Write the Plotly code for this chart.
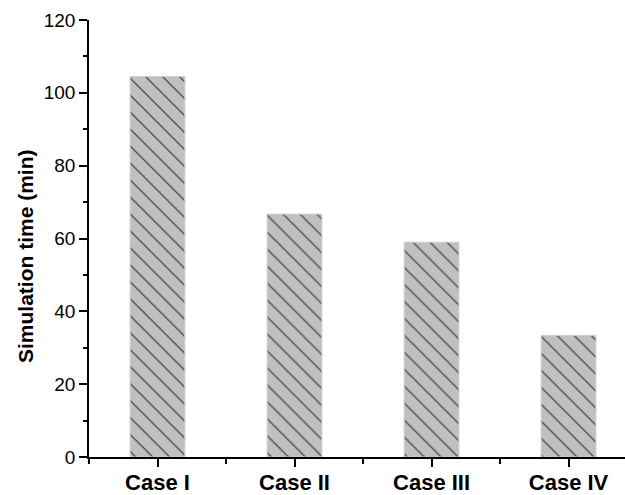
import plotly.graph_objects as go

# Simulation run time per case
categories = ["Case I", "Case II", "Case III", "Case IV"]
sim_time_min = [104.5, 66.7, 59.0, 33.4]
y_ticks = [0, 20, 40, 60, 80, 100, 120]

x_pos = list(range(len(categories)))

fig = go.Figure(
    go.Bar(
        x=x_pos,
        y=sim_time_min,
        width=0.4,
        marker=dict(
            color="#c0c0c0",
            line=dict(color="#d0d0d0", width=1),
            pattern=dict(shape="\\", size=12, solidity=0.1,
                         fgcolor="#333333", bgcolor="#c0c0c0",
                         fillmode="replace"),
        ),
        showlegend=False,
    )
)

font_family = "Liberation Sans, Arial, sans-serif"

fig.update_layout(
    width=625,
    height=495,
    margin=dict(l=89, r=0, t=20, b=38),
    paper_bgcolor="white",
    plot_bgcolor="white",
    font=dict(family=font_family, color="black"),
    xaxis=dict(
        range=[-0.5, 3.412],
        tickvals=x_pos,
        ticktext=categories,
        tickfont=dict(size=22, weight="bold", family=font_family),
        ticklabelstandoff=-3,
        ticks="outside",
        ticklen=8,
        tickwidth=1.5,
        tickcolor="black",
        showline=True,
        linecolor="black",
        linewidth=1.5,
        showgrid=False,
        zeroline=False,
        minor=dict(tick0=0.5, dtick=1, ticks="outside", ticklen=5,
                   tickwidth=1.5, tickcolor="black", showgrid=False),
    ),
    yaxis=dict(
        range=[0, 120],
        tickvals=y_ticks,
        tickfont=dict(size=19, family=font_family),
        ticks="outside",
        ticklen=8,
        tickwidth=1.5,
        tickcolor="black",
        showline=True,
        linecolor="black",
        linewidth=1.5,
        showgrid=False,
        zeroline=False,
        minor=dict(tick0=10, dtick=20, ticks="outside", ticklen=4,
                   tickwidth=1.5, tickcolor="black", showgrid=False),
    ),
    annotations=[
        dict(
            text="Simulation time (min)",
            xref="paper", yref="paper",
            x=-0.1175, y=0.46,
            xanchor="center", yanchor="middle",
            textangle=-90,
            showarrow=False,
            font=dict(size=21, weight="bold", family=font_family),
        )
    ],
)

fig.write_html("out.html")
